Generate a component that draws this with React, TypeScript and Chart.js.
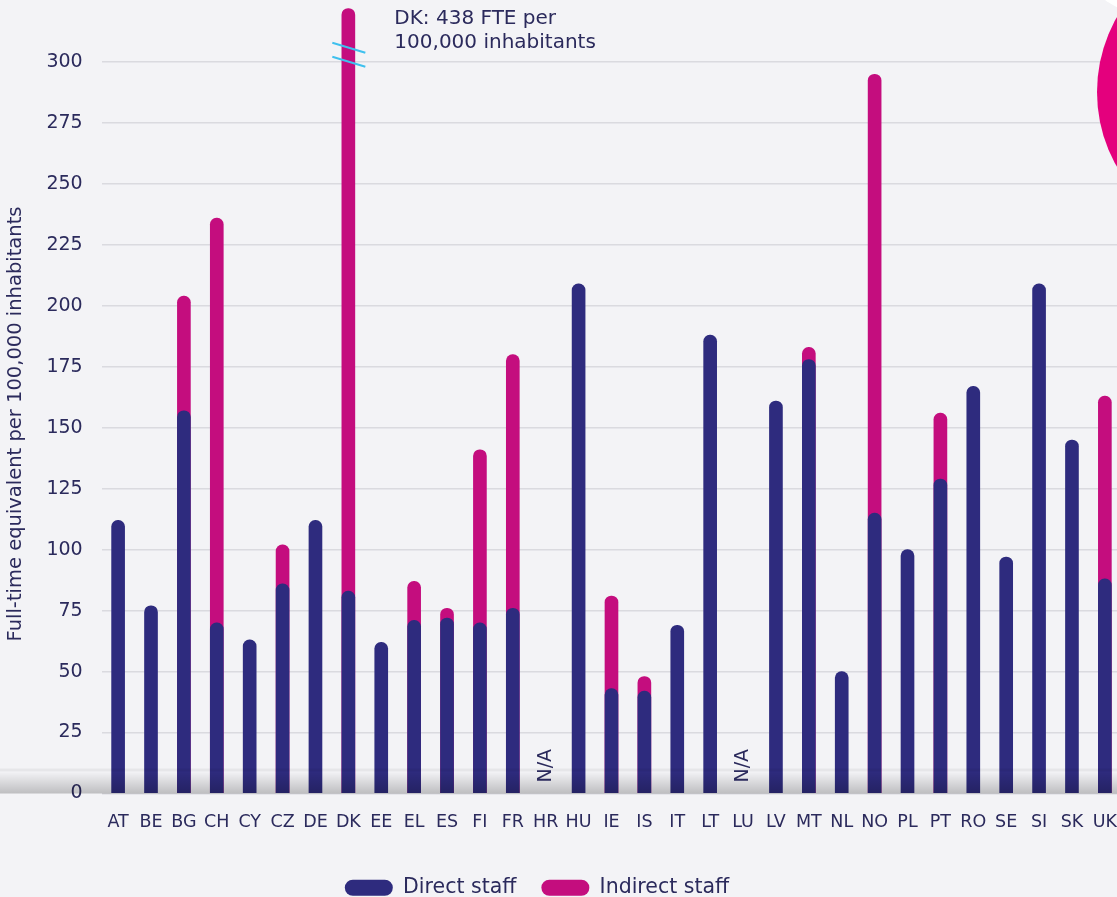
import React, { useEffect, useRef } from "react";
import { Chart, registerables } from "chart.js";

Chart.register(...registerables);

// ---- Data ----
const categories = [
  "AT", "BE", "BG", "CH", "CY", "CZ", "DE", "DK", "EE", "EL", "ES", "FI", "FR", "HR", "HU", "IE",
  "IS", "IT", "LT", "LU", "LV", "MT", "NL", "NO", "PL", "PT", "RO", "SE", "SI", "SK", "UK",
];
const directStaff: (number | null)[] = [
  112, 77, 157, 70, 63, 86, 112, 83, 62, 71, 72, 70, 76, null, 209, 43,
  42, 69, 188, null, 161, 178, 50, 115, 100, 129, 167, 97, 209, 145, 88,
];
const indirectStaff: (number | null)[] = [
  0, 0, 47, 166, 0, 16, 0, 355, 0, 16, 4, 71, 104, null, 0, 38,
  6, 0, 0, null, 0, 5, 0, 180, 0, 27, 0, 0, 0, 0, 75,
];
const notAvailable = ["HR", "LU"];
const brokenCategory = "DK";
const brokenNote = ["DK: 438 FTE per", "100,000 inhabitants"];
const brokenDisplayValue = 322; // value at which the broken bar is cut
const axisMax = 313;
const tickMax = 300;
const tickStep = 25;
const seriesLabels = ["Direct staff", "Indirect staff"];
const yTitle = "Full-time equivalent per 100,000 inhabitants";

// ---- Styles ----
const NAVY = "#2E2B7E";
const PINK = "#C40D7E";
const TEXT = "#2B2A5C";
const BG = "#F3F3F6";
const GRID = "#DADADF";
const CIRCLE = "#E4007D";
const FONT = "'DejaVu Sans', Verdana, sans-serif";

const totals = directStaff.map((d, i) => {
  const ind = indirectStaff[i];
  if (d == null || ind == null || ind === 0) return null;
  return Math.min(d + ind, brokenDisplayValue);
});

const decorPlugin = {
  id: "decor",
  afterLayout(chart: any) {
    const lg = chart.legend;
    if (lg) {
      const shift = 537 - (lg.left + lg.right) / 2;
      lg.left += shift;
      lg.right += shift;
    }
  },
  beforeDraw(chart: any) {
    const { ctx, width, height } = chart;
    ctx.save();
    ctx.fillStyle = BG;
    ctx.fillRect(0, 0, width, height);
    ctx.restore();
  },
  afterDatasetsDraw(chart: any) {
    const { ctx, chartArea, scales } = chart;
    const x = scales.x;
    const y = scales.y;
    ctx.save();
    // bottom shading band
    const y0 = y.getPixelForValue(0);
    const lineY = y0 - 23;
    ctx.fillStyle = "rgba(0,0,0,0.05)";
    ctx.fillRect(0, lineY - 2, chartArea.right, 3);
    const g = ctx.createLinearGradient(0, lineY + 1, 0, y0);
    g.addColorStop(0, "rgba(0,0,0,0)");
    g.addColorStop(1, "rgba(0,0,0,0.22)");
    ctx.fillStyle = g;
    ctx.fillRect(0, lineY + 1, chartArea.right, y0 - lineY - 1);

    // N/A labels
    ctx.fillStyle = TEXT;
    ctx.font = `19px ${FONT}`;
    ctx.textAlign = "left";
    ctx.textBaseline = "middle";
    notAvailable.forEach((c) => {
      const px = x.getPixelForValue(categories.indexOf(c));
      ctx.save();
      ctx.translate(px, y0 - 11);
      ctx.rotate(-Math.PI / 2);
      ctx.fillText("N/A", 0, 0);
      ctx.restore();
    });

    // break marks
    const bx = x.getPixelForValue(categories.indexOf(brokenCategory));
    const by = y.getPixelForValue(303);
    ctx.strokeStyle = "#3EC0EE";
    ctx.lineWidth = 2;
    [-7, 7].forEach((off) => {
      ctx.beginPath();
      ctx.moveTo(bx - 16, by + off - 5);
      ctx.lineTo(bx + 17, by + off + 5);
      ctx.stroke();
    });

    // note
    ctx.fillStyle = TEXT;
    ctx.font = `20px ${FONT}`;
    ctx.textAlign = "left";
    ctx.textBaseline = "middle";
    brokenNote.forEach((t, i) => ctx.fillText(t, bx + 46, 19 + i * 24));

    // y-axis title (space reserved by the scale title, drawn slightly lower like the original)
    ctx.save();
    ctx.translate(16, 424);
    ctx.rotate(-Math.PI / 2);
    ctx.textAlign = "center";
    ctx.font = `19.5px ${FONT}`;
    ctx.fillText(yTitle, 0, 0);
    ctx.restore();
    ctx.restore();
  },
  afterDraw(chart: any) {
    const { ctx } = chart;
    ctx.save();
    ctx.fillStyle = "#FFFFFF";
    ctx.beginPath();
    ctx.arc(1150, -60, 75, 0, Math.PI * 2);
    ctx.fill();
    ctx.fillStyle = CIRCLE;
    ctx.beginPath();
    ctx.arc(1248, 92, 151, 0, Math.PI * 2);
    ctx.fill();
    ctx.restore();
  },
};

export default function App() {
  const ref = useRef<HTMLCanvasElement | null>(null);

  useEffect(() => {
    document.body.style.margin = "0";
    document.body.style.background = BG;
    const canvas = ref.current;
    if (!canvas) return;
    const chart = new Chart(canvas, {
      type: "bar",
      data: {
        labels: categories,
        datasets: [
          {
            label: seriesLabels[0],
            data: directStaff,
            backgroundColor: NAVY,
            borderWidth: 0,
            borderRadius: 7,
            barThickness: 13,
            grouped: false,
            clip: false,
            order: 0,
          } as any,
          {
            label: seriesLabels[1],
            data: totals,
            backgroundColor: PINK,
            borderWidth: 0,
            borderRadius: 7,
            barThickness: 13,
            grouped: false,
            clip: false,
            order: 1,
          } as any,
        ],
      },
      plugins: [decorPlugin],
      options: {
        responsive: false,
        animation: false,
        devicePixelRatio: 1,
        layout: { padding: { left: 0, right: 0, top: 0, bottom: 0 } },
        plugins: {
          tooltip: { enabled: false },
          legend: {
            position: "bottom",
            labels: {
              boxWidth: 48,
              boxHeight: 16,
              useBorderRadius: true,
              borderRadius: 8,
              color: TEXT,
              padding: 25,
              font: { family: FONT, size: 20.5 },
            },
          },
        },
        scales: {
          x: {
            grid: { display: false },
            border: { display: false },
            ticks: {
              color: TEXT,
              font: { family: FONT, size: 17.5 },
              padding: 10,
              maxRotation: 0,
              autoSkip: false,
            },
            afterFit: (s: any) => {
              s.height = 59;
            },
          },
          y: {
            min: 0,
            max: axisMax,
            grid: { color: GRID, lineWidth: 1.5, drawTicks: false },
            border: { display: false },
            afterBuildTicks: (s: any) => {
              s.ticks = s.ticks.filter((t: any) => t.value <= tickMax);
            },
            ticks: {
              stepSize: tickStep,
              color: TEXT,
              padding: 19,
              font: { family: FONT, size: 19 },
            },
            title: {
              display: true,
              text: yTitle,
              color: "rgba(0,0,0,0)",
              font: { family: FONT, size: 19.5 },
              padding: { top: 4, bottom: 0 },
            },
          },
        },
      } as any,
    });
    return () => chart.destroy();
  }, []);

  return (
    <div style={{ width: 1117, height: 897, overflow: "hidden", position: "relative", background: BG }}>
      <canvas ref={ref} width={1127} height={908} style={{ display: "block" }} />
    </div>
  );
}
